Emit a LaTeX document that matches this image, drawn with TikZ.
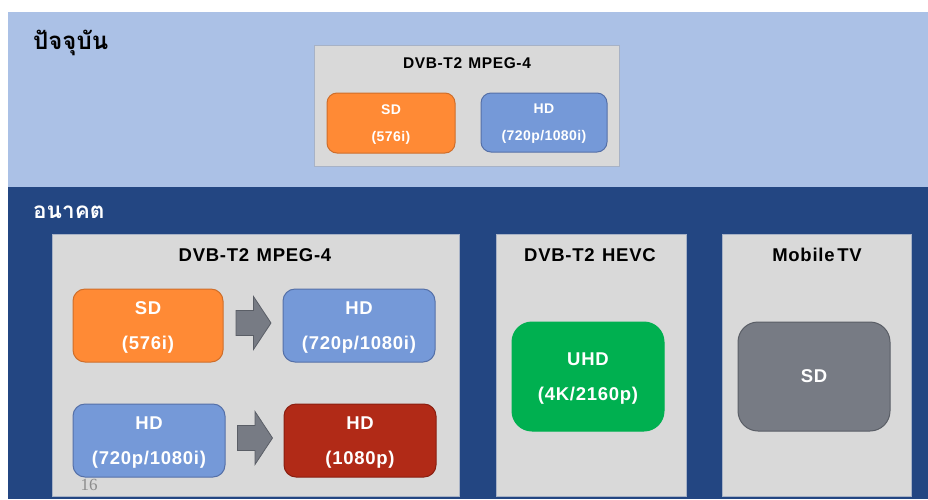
\documentclass[tikz,border=0pt]{standalone}
\usepackage{fontspec}
\setmainfont{Liberation Sans}
\newfontfamily\thaifont[Script=Thai]{Loma}
\newfontfamily\pagenumfont{Liberation Serif}
\usetikzlibrary{calc}

\definecolor{bandlight}{HTML}{ABC1E6}
\definecolor{banddark}{HTML}{234682}
\definecolor{panel}{HTML}{D9D9D9}
\definecolor{panelline}{HTML}{A7B2C6}
\definecolor{sdfill}{HTML}{FF8A35}
\definecolor{sdline}{HTML}{CF6E2A}
\definecolor{hdfill}{HTML}{7599D8}
\definecolor{hdline}{HTML}{5570A8}
\definecolor{fhdfill}{HTML}{B12A17}
\definecolor{fhdline}{HTML}{8A1E10}
\definecolor{uhdfill}{HTML}{00B050}
\definecolor{mobfill}{HTML}{777B84}
\definecolor{mobline}{HTML}{5A5E66}
\definecolor{pagegray}{HTML}{8C8C8C}

\tikzset{
  panelbox/.style={draw=panelline, line width=0.8pt, fill=panel, inner sep=0pt},
  paneltitle/.style={font=\fontsize{18.5}{22}\selectfont\bfseries\addfontfeatures{LetterSpace=4}, text=black, inner sep=0pt},
  smalltitle/.style={font=\fontsize{15.5}{18}\selectfont\bfseries\addfontfeatures{LetterSpace=4}, text=black, inner sep=0pt},
  fmtbox/.style={rounded corners=12pt, line width=1pt, inner sep=0pt, align=center, text=white, text depth=0pt,
    font=\fontsize{18.5}{35}\selectfont\bfseries\addfontfeatures{LetterSpace=4}},
  smallfmt/.style={rounded corners=10pt, line width=1pt, inner sep=0pt, align=center, text=white, text depth=0pt,
    font=\fontsize{14}{27}\selectfont\bfseries\addfontfeatures{LetterSpace=3}},
  sdstyle/.style={fill=sdfill, draw=sdline},
  hdstyle/.style={fill=hdfill, draw=hdline},
  fhdstyle/.style={fill=fhdfill, draw=fhdline},
  uhdstyle/.style={fill=uhdfill, draw=uhdfill},
  mobstyle/.style={fill=mobfill, draw=mobline},
  blockarrow/.style={fill=mobfill, draw=mobline, line width=0.8pt, line join=miter},
  bandlabel/.style={font=\thaifont\fontsize{24}{28}\selectfont\bfseries, inner sep=0pt, anchor=west},
}

\begin{document}
\begin{tikzpicture}[x=1pt, y=-1pt]
  % canvas
  \fill[white] (0,0) rectangle (928,499);
  \useasboundingbox (0,0) rectangle (928,499);

  % bands
  \fill[bandlight] (8,12) rectangle (928,187);
  \fill[banddark] (8,187) rectangle (928,499);

  \node[bandlabel, text=black] (now) at (33,43) {ปัจจุบัน};
  \node[bandlabel, text=white, font=\thaifont\fontsize{22.5}{28}\selectfont\bfseries] (future) at (33,212) {อนาคต};

  % present: DVB-T2 MPEG-4
  \node[panelbox, minimum width=305pt, minimum height=121pt] (nowpanel) at (466.5,105.5) {};
  \node[smalltitle] (nowtitle) at (467,63) {DVB-T2\hspace{0.4em}MPEG-4};
  \node[smallfmt, sdstyle, minimum width=128pt, minimum height=60pt] (nowsd) at (391,123) {SD\\(576i)};
  \node[smallfmt, hdstyle, minimum width=126pt, minimum height=59pt] (nowhd) at (544,122.5) {HD\\(720p/1080i)};

  % future: DVB-T2 MPEG-4
  \node[panelbox, minimum width=407pt, minimum height=262pt] (mpegpanel) at (255.5,365) {};
  \node[paneltitle] (mpegtitle) at (255,255) {DVB-T2\hspace{0.4em}MPEG-4};
  \node[fmtbox, sdstyle, minimum width=150pt, minimum height=73pt] (sdA) at (148,325.5) {SD\\(576i)};
  \node[fmtbox, hdstyle, minimum width=152pt, minimum height=73pt] (hdA) at (359,325.5) {HD\\(720p/1080i)};
  \node[fmtbox, hdstyle, minimum width=152pt, minimum height=73pt] (hdB) at (149,440.5) {HD\\(720p/1080i)};
  \node[fmtbox, fhdstyle, minimum width=152pt, minimum height=73pt] (fhdB) at (360,440.5) {HD\\(1080p)};

  % block arrows between the format boxes
  \coordinate (arrA) at ($(sdA.east)!0.5!(hdA.west)+(0.5,-2.5)$);
  \coordinate (arrB) at ($(hdB.east)!0.5!(fhdB.west)+(0.5,-2.5)$);
  \foreach \c in {arrA,arrB}{
    \draw[blockarrow] ($(\c)+(-17.5,-12.5)$) -- ($(\c)+(0,-12.5)$) -- ($(\c)+(0,-26.5)$)
      -- ($(\c)+(17.5,0)$) -- ($(\c)+(0,26.5)$) -- ($(\c)+(0,12.5)$) -- ($(\c)+(-17.5,12.5)$) -- cycle;
  }

  % future: DVB-T2 HEVC
  \node[panelbox, minimum width=190pt, minimum height=262pt] (hevcpanel) at (591,365) {};
  \node[paneltitle] (hevctitle) at (590,255) {DVB-T2\hspace{0.4em}HEVC};
  \node[fmtbox, uhdstyle, rounded corners=20pt, minimum width=152pt, minimum height=109pt] (uhd) at (588,376.5) {UHD\\(4K/2160p)};

  % future: Mobile TV
  \node[panelbox, minimum width=189pt, minimum height=262pt] (mobpanel) at (816.5,365) {};
  \node[paneltitle] (mobtitle) at (817,255) {Mobile\hspace{0.15em}TV};
  \node[fmtbox, mobstyle, rounded corners=20pt, minimum width=152pt, minimum height=109pt] (mobsd) at (814,376.5) {SD};

  % page number
  \node[font=\pagenumfont\fontsize{17}{20}\selectfont, text=pagegray, inner sep=0pt] (pagenum) at (89,485) {16};
\end{tikzpicture}
\end{document}
